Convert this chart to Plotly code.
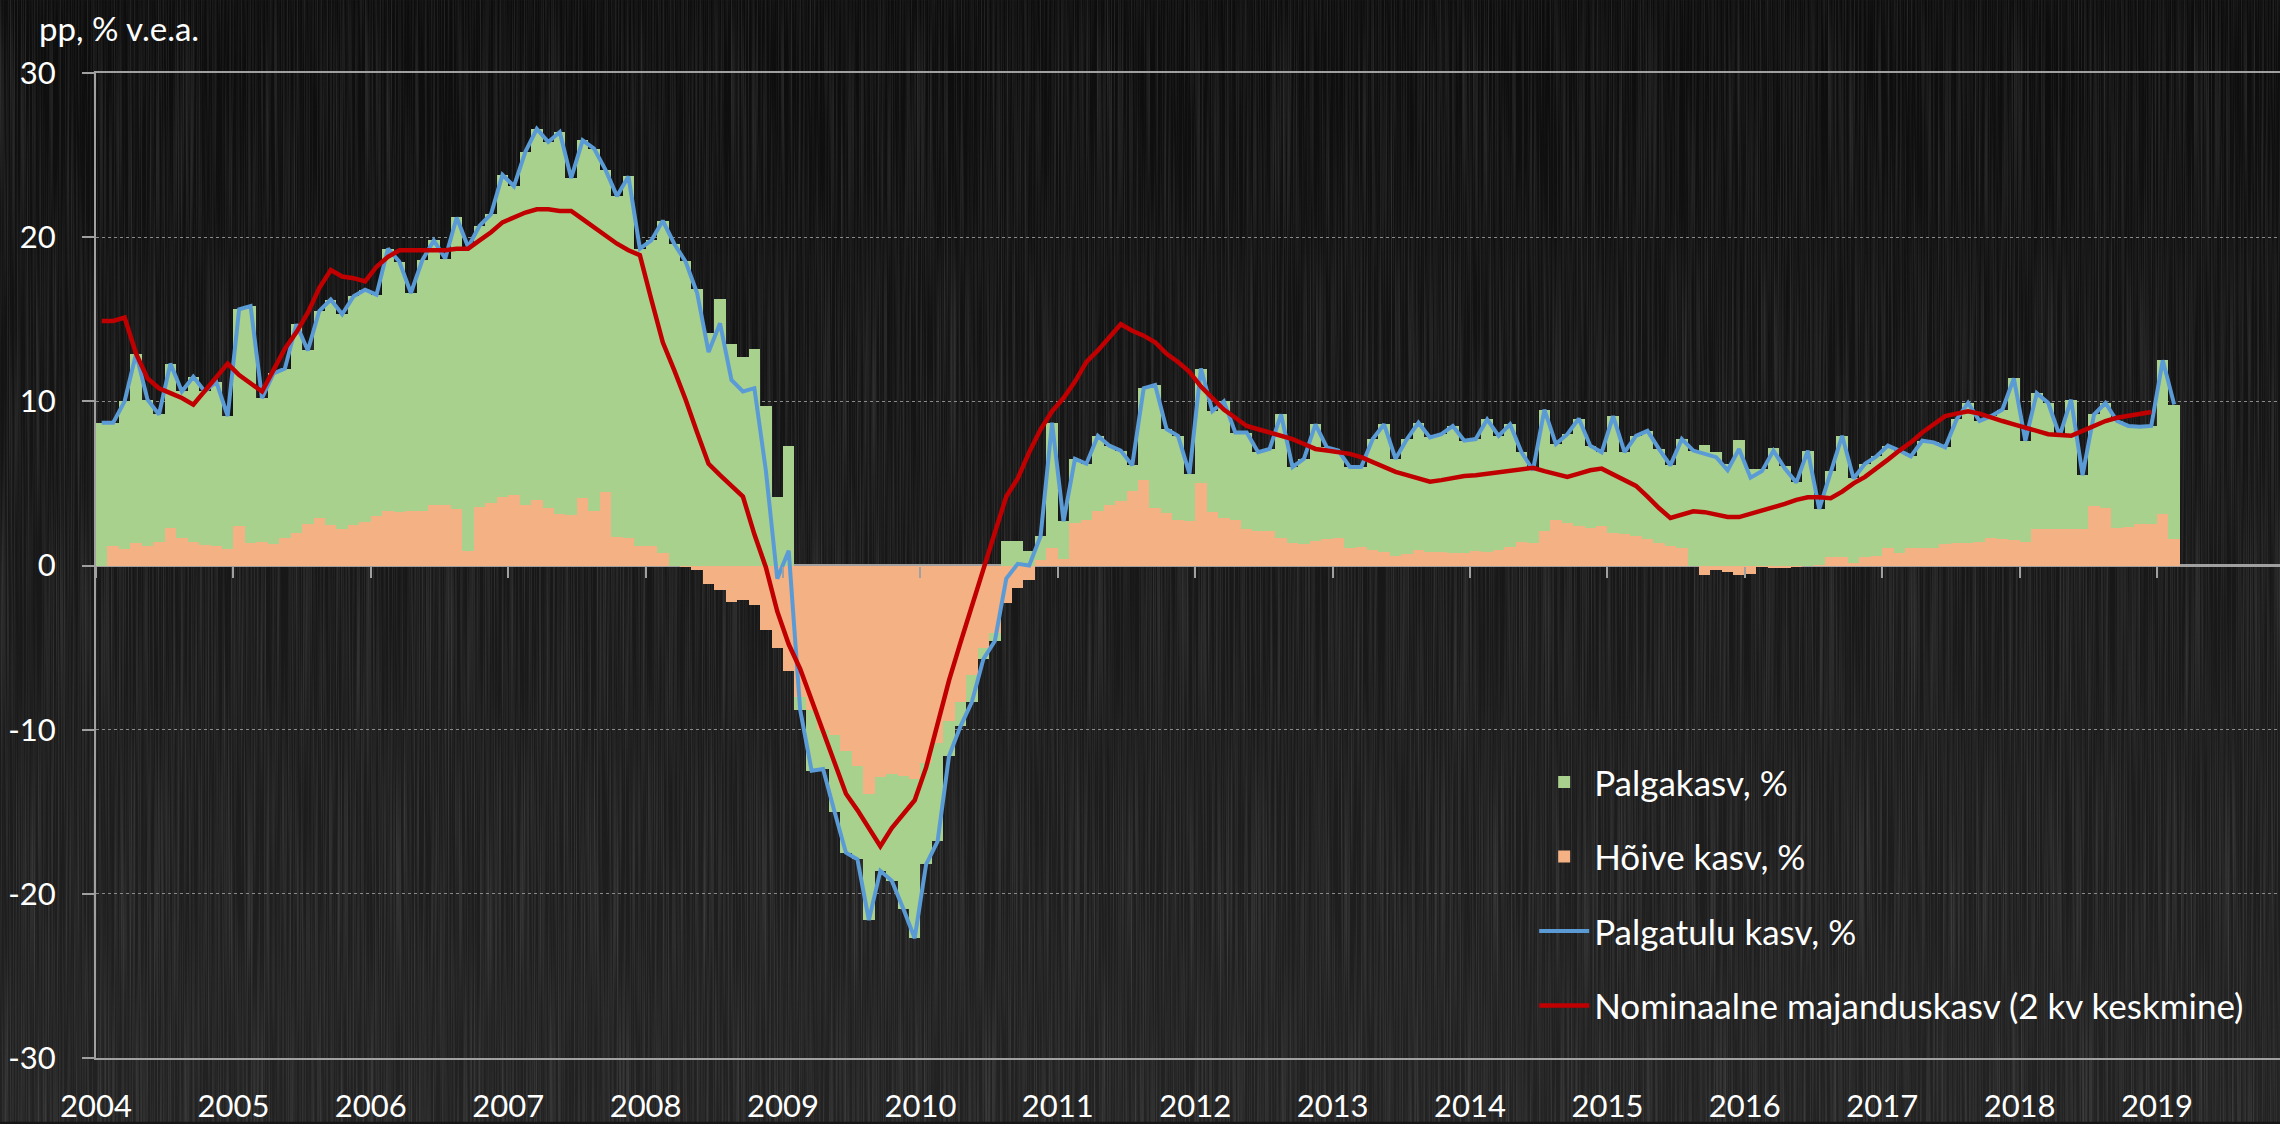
import base64
import plotly.graph_objects as go

# ---------------- data (monthly, Jan 2004 - Feb 2019) ----------------
years = [str(y) for y in range(2004, 2020)]
y_ticks = [-30, -20, -10, 0, 10, 20, 30]
y_ticktext = ["-30", "-20", "-10", "0", "10", "20", "30"]

palgakasv = [  # Palgakasv, %
    8.7, 7.5, 9.0, 11.55, 8.9, 7.75, 10.0, 8.95, 10.05, 9.35, 10.0, 8.1,
    13.2, 14.4, 8.75, 10.4, 10.3, 12.7, 10.55, 12.6, 13.75, 13.05, 13.95, 14.15,
    13.5, 15.95, 15.25, 13.3, 15.25, 16.1, 15.0, 17.75, 18.5, 17.15, 17.6, 19.65,
    18.8, 21.5, 22.6, 22.3, 23.25, 20.5, 21.8, 22.1, 19.6, 20.75, 22.05, 18.1,
    18.6, 20.25, 19.6, 18.55, 16.85, 14.15, 16.25, 13.5, 12.7, 13.2, 9.7, 4.2,
    7.3, -0.8, -3.7, -2.4, -4.7, -6.2, -5.7, -7.7, -5.7, -6.5, -8.1, -9.7,
    -6.2, -6.0, -2.1, -1.5, -1.6, -0.7, -0.5, 1.5, 1.5, 0.9, 1.45, 7.65,
    2.3, 3.9, 3.4, 4.55, 3.6, 3.05, 1.55, 5.6, 7.5, 5.1, 5.15, 2.9,
    6.95, 6.15, 7.1, 5.35, 5.85, 4.8, 5.0, 7.55, 4.6, 5.2, 7.1, 5.6,
    5.3, 4.95, 4.9, 6.75, 7.75, 5.9, 7.0, 7.75, 6.95, 7.15, 7.75, 6.85,
    6.8, 8.05, 6.95, 7.45, 5.45, 4.4, 7.4, 4.6, 5.4, 6.55, 5.0, 4.5,
    7.15, 5.0, 6.1, 6.6, 5.7, 4.9, 6.65, 7.0, 7.35, 6.9, 6.2, 7.65,
    5.85, 5.85, 7.15, 6.05, 5.1, 7.0, 3.4, 5.25, 7.4, 5.15, 5.7, 6.1,
    6.25, 6.25, 5.6, 6.55, 6.45, 5.9, 7.5, 8.5, 7.35, 7.4, 7.9, 9.85,
    6.15, 8.25, 7.65, 5.65, 7.85, 3.3, 5.55, 6.4, 6.5, 6.15, 5.9, 5.95,
    9.35, 8.2,
]

hoive = [  # Hõive kasv, %
    0.0, 1.2, 1.0, 1.35, 1.2, 1.45, 2.3, 1.65, 1.45, 1.25, 1.2, 1.0,
    2.4, 1.4, 1.45, 1.3, 1.7, 2.0, 2.55, 2.9, 2.45, 2.25, 2.45, 2.65,
    3.0, 3.35, 3.25, 3.3, 3.35, 3.7, 3.7, 3.45, 0.9, 3.55, 3.8, 4.15,
    4.3, 3.7, 4.0, 3.5, 3.15, 3.1, 4.1, 3.3, 4.5, 1.75, 1.65, 1.2,
    1.2, 0.75, 0.0, -0.05, -0.25, -1.15, -1.5, -2.2, -2.1, -2.4, -3.9, -5.0,
    -6.4, -8.0, -8.8, -10.0, -10.3, -11.3, -12.2, -13.9, -12.9, -12.7, -12.8, -13.0,
    -12.0, -10.8, -9.5, -8.3, -6.7, -5.0, -4.1, -2.3, -1.4, -0.9, 0.35, 1.05,
    0.4, 2.6, 2.8, 3.35, 3.7, 3.95, 4.55, 5.2, 3.5, 3.2, 2.75, 2.7,
    5.05, 3.25, 2.9, 2.75, 2.25, 2.1, 2.1, 1.65, 1.4, 1.3, 1.5, 1.6,
    1.7, 1.05, 1.1, 0.95, 0.85, 0.6, 0.7, 0.95, 0.85, 0.85, 0.75, 0.75,
    0.9, 0.85, 0.95, 1.15, 1.45, 1.4, 2.1, 2.8, 2.6, 2.4, 2.3, 2.4,
    1.95, 1.9, 1.8, 1.6, 1.4, 1.2, 1.05, 0.0, -0.55, -0.3, -0.4, -0.55,
    -0.5, -0.1, -0.15, -0.15, -0.05, 0.0, 0.05, 0.5, 0.5, 0.15, 0.5, 0.55,
    1.05, 0.75, 1.05, 1.05, 1.05, 1.3, 1.4, 1.4, 1.45, 1.7, 1.6, 1.55,
    1.45, 2.25, 2.25, 2.25, 2.25, 2.2, 3.65, 3.5, 2.3, 2.35, 2.55, 2.55,
    3.15, 1.6,
]

palgatulu = [  # Palgatulu kasv, %
    8.7, 8.7, 10.0, 12.9, 10.1, 9.2, 12.3, 10.6, 11.5, 10.6, 11.2, 9.1,
    15.6, 15.8, 10.2, 11.7, 12.0, 14.7, 13.1, 15.5, 16.2, 15.3, 16.4, 16.8,
    16.5, 19.3, 18.5, 16.6, 18.6, 19.8, 18.7, 21.2, 19.4, 20.7, 21.4, 23.8,
    23.1, 25.2, 26.6, 25.8, 26.4, 23.6, 25.9, 25.4, 24.1, 22.5, 23.7, 19.3,
    19.8, 21.0, 19.6, 18.5, 16.6, 13.0, 14.75, 11.3, 10.6, 10.8, 5.8, -0.8,
    0.9, -8.8, -12.5, -12.4, -15.0, -17.5, -17.9, -21.6, -18.6, -19.2, -20.9, -22.7,
    -18.2, -16.8, -11.6, -9.8, -8.3, -5.7, -4.6, -0.8, 0.1, 0.0, 1.8, 8.7,
    2.7, 6.5, 6.2, 7.9, 7.3, 7.0, 6.1, 10.8, 11.0, 8.3, 7.9, 5.6,
    12.0, 9.4, 10.0, 8.1, 8.1, 6.9, 7.1, 9.2, 6.0, 6.5, 8.6, 7.2,
    7.0, 6.0, 6.0, 7.7, 8.6, 6.5, 7.7, 8.7, 7.8, 8.0, 8.5, 7.6,
    7.7, 8.9, 7.9, 8.6, 6.9, 5.8, 9.5, 7.4, 8.0, 8.95, 7.3, 6.9,
    9.1, 6.9, 7.9, 8.2, 7.1, 6.1, 7.7, 7.0, 6.8, 6.6, 5.8, 7.1,
    5.35, 5.75, 7.0, 5.9, 5.05, 7.0, 3.45, 5.75, 7.9, 5.3, 6.2, 6.65,
    7.3, 7.0, 6.65, 7.6, 7.5, 7.2, 8.9, 9.9, 8.8, 9.1, 9.5, 11.4,
    7.6, 10.5, 9.9, 7.9, 10.1, 5.5, 9.2, 9.9, 8.8, 8.5, 8.45, 8.5,
    12.5, 9.8,
]

nominaal = [  # Nominaalne majanduskasv (2 kv keskmine), Jan 2004 - Dec 2018
    14.9, 14.9, 15.1, 12.9, 11.4, 10.8, 10.5, 10.2, 9.8, 10.6, 11.5, 12.3,
    11.6, 11.1, 10.6, 11.9, 13.2, 14.2, 15.4, 16.9, 18.0, 17.6, 17.5, 17.3,
    18.2, 18.8, 19.2, 19.2, 19.2, 19.2, 19.2, 19.3, 19.3, 19.8, 20.3, 20.9,
    21.2, 21.5, 21.7, 21.7, 21.6, 21.6, 21.1, 20.6, 20.1, 19.6, 19.2, 18.9,
    16.2, 13.6, 11.9, 10.1, 8.1, 6.2, 5.5, 4.85, 4.2, 1.9, -0.1, -2.8,
    -4.8, -6.3, -8.2, -10.2, -12.1, -13.9, -14.9, -16.0, -17.1, -16.0, -15.2, -14.3,
    -12.3, -9.7, -7.0, -4.7, -2.4, -0.1, 2.0, 4.2, 5.3, 6.9, 8.3, 9.4,
    10.2, 11.2, 12.4, 13.1, 13.9, 14.7, 14.3, 14.0, 13.6, 12.9, 12.4, 11.8,
    10.9, 10.2, 9.5, 9.0, 8.5, 8.3, 8.1, 7.9, 7.7, 7.4, 7.1, 7.0,
    6.9, 6.8, 6.6, 6.3, 6.0, 5.7, 5.5, 5.3, 5.1, 5.2, 5.35, 5.45,
    5.5, 5.6, 5.7, 5.8, 5.9, 5.95, 5.75, 5.55, 5.4, 5.6, 5.8, 5.9,
    5.55, 5.15, 4.85, 4.2, 3.5, 2.9, 3.1, 3.3, 3.25, 3.1, 2.95, 2.95,
    3.15, 3.35, 3.5, 3.75, 4.0, 4.15, 4.15, 4.1, 4.5, 5.0, 5.4, 5.9,
    6.45, 7.0, 7.5, 8.1, 8.6, 9.1, 9.25, 9.4, 9.25, 9.0, 8.8, 8.6,
    8.4, 8.2, 8.0, 7.95, 7.9, 8.2, 8.5, 8.8, 9.0, 9.1, 9.2, 9.35,
]

# month index -> centre of each monthly column
months = list(range(len(palgakasv)))
x_mid = [m + 0.5 for m in months]
year_ticks = [12 * i for i in range(len(years))]

# ---------------- styling ----------------
FONT = "Lato"
WHITE = "#ffffff"
AXIS = "#a0a0a0"
BG = "#161616"
W, H = 2280, 1124
ML, MR, MT, MB = 96, 0, 73, 64
PW, PH = W - ML - MR, H - MT - MB

svg = f'''<svg xmlns="http://www.w3.org/2000/svg" width="{W}" height="{H}">
<defs>
<linearGradient id="g" x1="0" y1="0" x2="0" y2="1">
<stop offset="0" stop-color="#0c0c0c"/>
<stop offset="0.55" stop-color="#181818"/>
<stop offset="1" stop-color="#222222"/>
</linearGradient>
<filter id="f" x="0" y="0" width="100%" height="100%">
<feTurbulence type="fractalNoise" baseFrequency="0.7 0.004" numOctaves="2" seed="5"/>
<feColorMatrix type="matrix" values="0 0 0 0 1  0 0 0 0 1  0 0 0 0 1  1.2 0 0 0 -0.45"/>
</filter>
</defs>
<rect width="100%" height="100%" fill="url(#g)"/>
<rect width="100%" height="100%" filter="url(#f)" opacity="0.22"/>
</svg>'''
bg_src = "data:image/svg+xml;base64," + base64.b64encode(svg.encode()).decode()

fig = go.Figure()
fig.add_trace(go.Bar(x=x_mid, y=hoive, width=1, name="Hõive kasv, %",
                     marker=dict(color="#F4B183", line=dict(width=0)),
                     legendrank=2, legendgroup="b"))
fig.add_trace(go.Bar(x=x_mid, y=palgakasv, width=1, name="Palgakasv, %",
                     marker=dict(color="#A9D18E", line=dict(width=0)),
                     legendrank=1, legendgroup="a"))
fig.add_trace(go.Scatter(x=x_mid, y=palgatulu, mode="lines", name="Palgatulu kasv, %",
                         line=dict(color="#5B9BD5", width=4), legendrank=3, legendgroup="c"))
fig.add_trace(go.Scatter(x=x_mid[:len(nominaal)], y=nominaal, mode="lines",
                         name="Nominaalne majanduskasv (2 kv keskmine)", xaxis="x2",
                         line=dict(color="#C00000", width=4.5), legendrank=4, legendgroup="d"))

xr = [0, PW / 11.45]
fig.update_layout(
    width=W, height=H,
    margin=dict(l=ML, r=MR, t=MT, b=MB),
    paper_bgcolor=BG, plot_bgcolor="rgba(0,0,0,0)",
    barmode="relative", bargap=0,
    font=dict(family=FONT, color=WHITE, size=31),
    xaxis=dict(range=xr, tickmode="array", tickvals=year_ticks, ticktext=years,
               showgrid=False, zeroline=False, ticks="", showline=True, mirror=True,
               linecolor=AXIS, linewidth=2, tickfont=dict(size=31, color=WHITE),
               ticklabelstandoff=20, fixedrange=True),
    xaxis2=dict(range=xr, overlaying="x", anchor="free", position=0.5, side="bottom",
                tickmode="array", tickvals=year_ticks, showticklabels=False,
                ticks="outside", ticklen=11, tickwidth=1.5, tickcolor=AXIS,
                showgrid=False, zeroline=False, showline=False),
    yaxis=dict(range=[-30, 30], tickmode="array", tickvals=y_ticks, ticktext=y_ticktext,
               showgrid=True, gridcolor="#8a8a8a", griddash="dot", gridwidth=1,
               zeroline=True, zerolinecolor=AXIS, zerolinewidth=2.5,
               showline=True, linecolor=AXIS, linewidth=2,
               ticks="outside", ticklen=12, tickwidth=1.5, tickcolor=AXIS,
               tickfont=dict(size=31, color=WHITE), ticklabelstandoff=20),
    legend=dict(x=0.6585, y=0.31, xanchor="left", yanchor="top",
                bgcolor="rgba(0,0,0,0)", font=dict(size=35, color=WHITE),
                traceorder="grouped", tracegroupgap=26, itemwidth=50),
    showlegend=True,
    images=[dict(source=bg_src, xref="paper", yref="paper",
                 x=-ML / PW, y=1 + MT / PH, sizex=W / PW, sizey=H / PH,
                 xanchor="left", yanchor="top", sizing="stretch", layer="below")],
    annotations=[dict(text="pp, % v.e.a.", xref="paper", yref="paper",
                      x=(37 - ML) / PW, y=1 + (MT - 28) / PH, xanchor="left", yanchor="middle",
                      showarrow=False, font=dict(size=33, color=WHITE, family=FONT))],
)

fig.write_html("out.html",
               config={"displayModeBar": False},
               post_script="document.body.style.margin='0px';"
                           "document.body.style.background='" + BG + "';")
